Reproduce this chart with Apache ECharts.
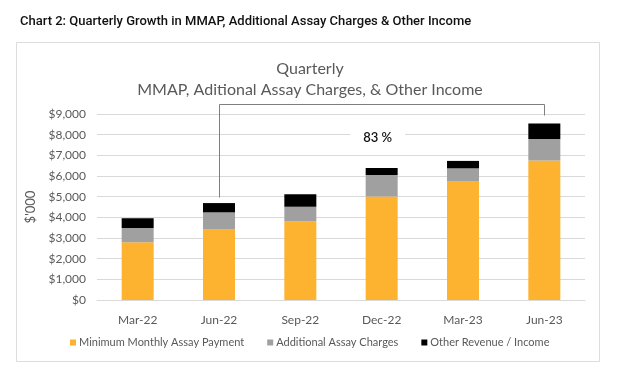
<!DOCTYPE html>
<html><head><meta charset="utf-8">
<script src="https://cdn.jsdelivr.net/npm/echarts@6/dist/echarts.min.js"></script>
<style>html,body{margin:0;padding:0;background:#fff}#c{width:620px;height:373px}</style>
</head><body><div id="c"></div>
<script>
const categories = ['Mar-22', 'Jun-22', 'Sep-22', 'Dec-22', 'Mar-23', 'Jun-23'];
const mmap = [2790, 3420, 3800, 5010, 5740, 6750];
const additional = [690, 820, 710, 1040, 630, 1040];
const other = [470, 450, 610, 340, 360, 750];
const seriesNames = ['Minimum Monthly Assay Payment', 'Additional Assay Charges', 'Other Revenue / Income'];
const yMin = 0, yMax = 9000, yInterval = 1000;
const growthLabel = '83 %';
const bracketFrom = 'Jun-22', bracketTo = 'Jun-23';
const bracketTopValue = 9500, bracketFromEnd = 4960, bracketToEnd = 8960;
const growthCategory = 'Dec-22', growthValue = 7850;

const FONT = 'Lato, "Open Sans", sans-serif';
const chart = echarts.init(document.getElementById('c'), null, {renderer: 'canvas'});
const colors = ['#FDB32F', '#A0A0A0', '#000000'];
const stackData = [mmap, additional, other];

chart.setOption({
  animation: false,
  backgroundColor: '#fff',
  title: [
    {text: 'Chart 2: Quarterly Growth in MMAP, Additional Assay Charges & Other Income',
     left: 15, top: 10,
     textStyle: {fontFamily: 'Roboto', fontSize: 13, fontWeight: 500, color: '#111'}},
    {text: 'Quarterly\nMMAP, Aditional Assay Charges, & Other Income',
     left: 'center', top: 54,
     textStyle: {fontFamily: FONT, fontSize: 16, fontWeight: 'normal', color: '#595959', lineHeight: 20.5}}
  ],
  grid: {left: 97, right: 35, top: 114, bottom: 73, containLabel: false},
  legend: {
    left: 70, top: 337, padding: 0, icon: 'rect', itemWidth: 6, itemHeight: 6, itemGap: 23,
    textStyle: {fontFamily: FONT, fontSize: 11, color: '#595959', padding: [0, 0, 0, -2]},
    data: seriesNames
  },
  xAxis: {
    type: 'category', data: categories,
    axisLine: {show: true, lineStyle: {color: '#d9d9d9'}},
    axisTick: {show: false},
    axisLabel: {fontFamily: FONT, fontSize: 12, color: '#595959', margin: 14}
  },
  yAxis: {
    type: 'value', min: yMin, max: yMax, interval: yInterval,
    name: "$'000", nameLocation: 'middle', nameGap: 55, nameRotate: 90,
    nameTextStyle: {fontFamily: FONT, fontSize: 13, color: '#595959'},
    axisLine: {show: false}, axisTick: {show: false},
    axisLabel: {fontFamily: FONT, fontSize: 12, color: '#595959', margin: 11,
      formatter: v => '$' + v.toLocaleString('en-US')},
    splitLine: {lineStyle: {color: '#d9d9d9'}}
  },
  series: seriesNames.map((n, i) => ({
    name: n, type: 'bar', stack: 'total', barWidth: 32,
    itemStyle: {color: colors[i]},
    data: stackData[i]
  }))
});

const p = (c, v) => chart.convertToPixel({gridIndex: 0}, [c, v]);
const a = p(bracketFrom, bracketFromEnd), b = p(bracketFrom, bracketTopValue);
const c = p(bracketTo, bracketTopValue), d = p(bracketTo, bracketToEnd);
const crisp = pt => [Math.round(pt[0]) + 0.5, Math.round(pt[1]) + 0.5];
const g = p(growthCategory, growthValue);

chart.setOption({
  graphic: [
    {type: 'rect', z: -10, silent: true,
     shape: {x: 16.5, y: 42.5, width: 583, height: 319},
     style: {fill: 'none', stroke: '#dcdcdc', lineWidth: 1}},
    {type: 'polyline', z: 10, silent: true,
     shape: {points: [crisp(a), crisp(b), crisp(c), crisp(d)]},
     style: {stroke: '#7f7f7f', lineWidth: 1, fill: null}},
    {type: 'text', z: 10, silent: true,
     x: g[0] - 4, y: g[1],
     style: {text: growthLabel, align: 'center', verticalAlign: 'middle',
       font: '600 13px ' + FONT, fill: '#111',
       backgroundColor: '#fff', padding: [3, 13]}}
  ]
});
</script></body></html>
